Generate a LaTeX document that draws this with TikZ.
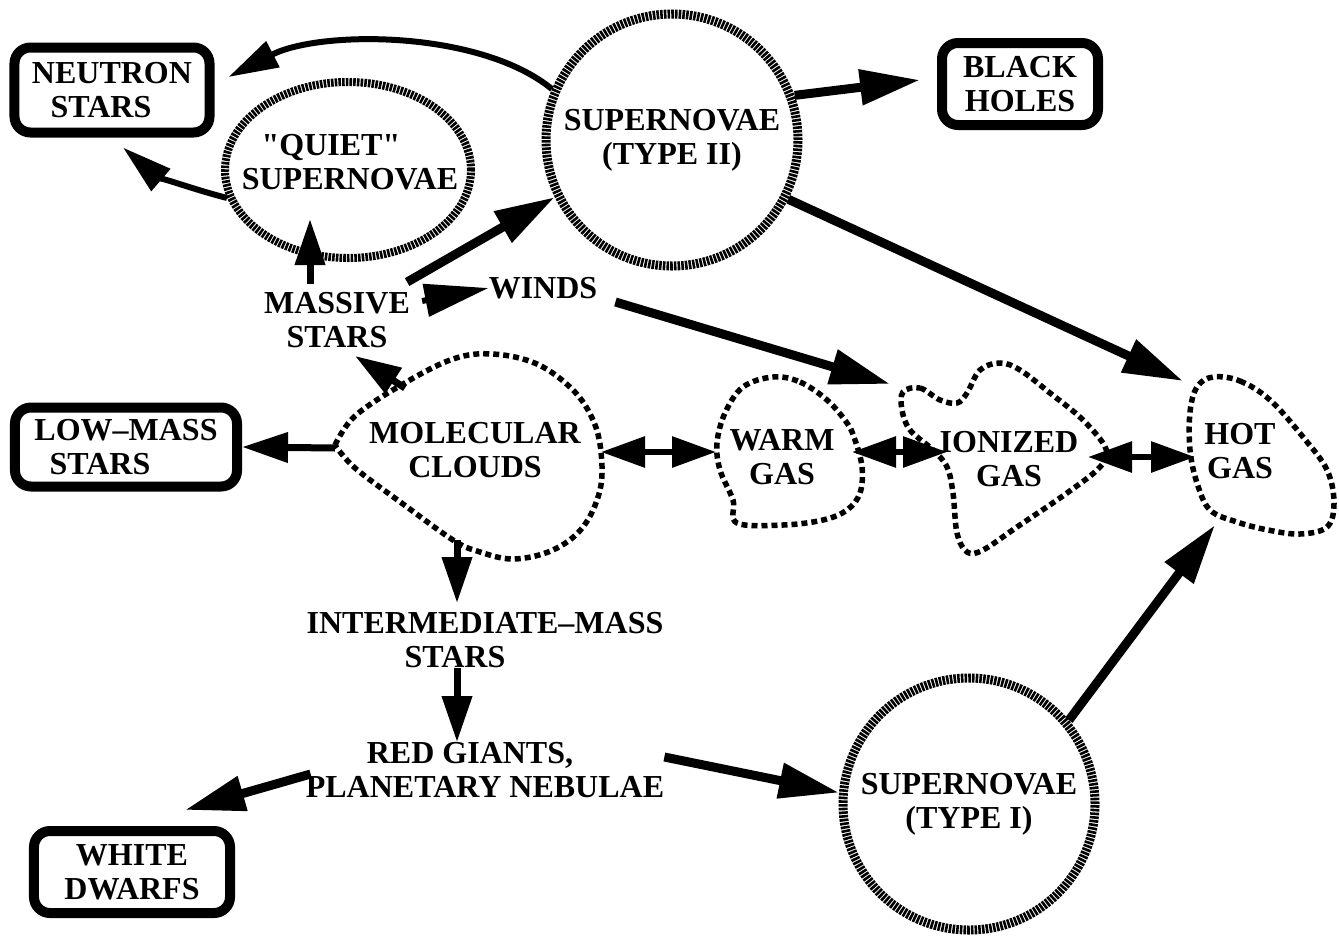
\documentclass[tikz,border=0pt]{standalone}
\usepackage{fontspec}
\setmainfont{Liberation Serif}[Ligatures=TeXOff]
\usetikzlibrary{arrows.meta,shapes.geometric,calc}
\begin{document}
\begin{tikzpicture}[x=1bp,y=-1bp,
  txt/.style={font=\fontsize{32bp}{34bp}\selectfont\bfseries, align=center, inner sep=0pt},
  box/.style={txt, draw, line width=10bp, rounded corners=16bp},
  hatch/.style={line width=9bp, dash pattern=on 2.6bp off 1.1bp},
  sn/.style={txt, circle, hatch, draw, minimum size=252bp},
  blob/.style={line width=5.5bp, dash pattern=on 6bp off 4bp},
  arr/.style={line width=9bp, -{Triangle[length=60bp,width=34bp]}},
  arrs/.style={line width=7bp, -{Triangle[length=46bp,width=29bp]}},
  arrc/.style={line width=6bp, -{Triangle[length=50bp,width=28bp]}},
  dbl/.style={line width=6bp, {Triangle[length=44bp,width=30bp]}-{Triangle[length=44bp,width=30bp]}},
]
\fill[white] (0,0) rectangle (1339,943);
\useasboundingbox (0,0) rectangle (1339,943);

% boxes
\node[box, minimum width=195bp, minimum height=85bp] (neutron) at (112,90) {NEUTRON\\\hspace*{-22bp}STARS};
\node[box, minimum width=156bp, minimum height=82bp] (bh) at (1020,84) {BLACK\\HOLES};
\node[box, minimum width=222bp, minimum height=79bp] (lowmass) at (126,447) {LOW–MASS\\\hspace*{-52bp}STARS};
\node[box, minimum width=196bp, minimum height=82bp] (white) at (132,872) {WHITE\\DWARFS};

% supernovae
\node[sn] (snII) at (672,140) {SUPERNOVAE\\(TYPE II)};
\node[sn] (snI) at (969,804) {SUPERNOVAE\\(TYPE I)};
\node[ellipse, draw, hatch, line width=8bp, minimum width=246bp, minimum height=176bp, inner sep=0pt] (quiet) at (348,170) {};
\node[txt] (quiett) at (350,162) {\hspace*{-38bp}"QUIET"\\SUPERNOVAE};

% plain labels
\node[txt] (massive) at (337,320) {MASSIVE\\STARS};
\node[txt] (winds) at (543,288) {WINDS};
\node[txt] (inter) at (485,640) {INTERMEDIATE–MASS\\\hspace*{-60bp}STARS};
\node[txt] (red) at (485,770) {\hspace*{-30bp}RED GIANTS,\\PLANETARY NEBULAE};

% gas phases
\node[txt] (mc) at (475,450) {MOLECULAR\\CLOUDS};
\node[txt] (warm) at (782,457) {WARM\\GAS};
\node[txt] (ion) at (1009,459) {IONIZED\\GAS};
\node[txt] (hot) at (1240,451) {HOT\\GAS};

\draw[blob] plot[smooth, tension=0.6] coordinates {(335,445) (355,416) (403,384) (453,359) (493,354) (537,364) (573,390) (593,420) (601,452) (600,490) (583,527) (553,550) (513,559) (477,551) (453,540) (403,504) (355,468) (335,445)};
\draw[blob] plot[smooth cycle, tension=0.6] coordinates {(773,377) (800,382) (827,400) (847,423) (855,440) (862,467) (860,493) (847,510) (823,520) (783,525) (737,523) (733,500) (720,470) (717,443) (725,413) (743,387)};
\draw[blob] plot[smooth cycle, tension=0.6] coordinates {(903,392) (920,388) (940,400) (957,403) (967,393) (980,370) (1000,363) (1020,370) (1050,393) (1083,420) (1106,449) (1100,467) (1067,493) (1017,527) (983,550) (967,552) (957,533) (953,493) (947,467) (933,450) (910,430) (902,410)};
\draw[blob] plot[smooth cycle, tension=0.6] coordinates {(1213,377) (1240,381) (1270,400) (1303,437) (1327,470) (1334,503) (1327,527) (1300,534) (1268,530) (1237,522) (1210,510) (1197,483) (1190,450) (1190,412) (1197,387)};

\coordinate (mcL) at (335,448);
\coordinate (mcR) at (601,452);
\coordinate (mcT) at (405,388);
\coordinate (mcB) at (457,540);
\coordinate (warmL) at (716,452);
\coordinate (warmR) at (852,452);
\coordinate (ionL) at (947,452);
\coordinate (ionR) at (1088,457);
\coordinate (ionT) at (890,384);
\coordinate (hotL) at (1195,457);
\coordinate (hotT) at (1183,381);
\coordinate (hotB) at (1215,525);

% connectors
\draw[arrc] (snII.157) .. controls (480,30) and (320,30) .. ($(neutron.east)+(14,-13)$);
\draw[arrc] (quiet.193) .. controls (195,190) and (155,175) .. ($(neutron.south)+(11,10)$);
\draw[arr] (snII.20) -- ($(bh.west)+(-17,-4)$);
\draw[arr] (snII.-27) -- (hotT);
\draw[arr] ($(massive.north east)+(-3,-10)$) -- (snII.206);
\draw[arrs] ($(massive.north)+(-27,-8)$) -- ($(quiet.south)+(-38,-43)$);
\draw[line width=6bp, -{Triangle[length=64bp,width=32bp]}] ($(massive.east)+(12,-19)$) -- (winds.west);
\draw[arr] ($(winds.east)+(18,14)$) -- (ionT);
\draw[arrs] (mcT) -- ($(massive.south)+(18,8)$);
\draw[arrs] (mcL) -- (lowmass.east);
\draw[dbl] (mcR) -- (warmL);
\draw[dbl] (warmR) -- (ionL);
\draw[dbl] (ionR) -- (hotL);
\draw[arrs] (mcB) -- ($(mcB |- inter.north)+(0,-9)$);
\draw[arrs] (mcB |- inter.south) -- (mcB |- red.north);
\draw[arr] ($(red.west)+(5,4)$) -- ($(white.north east)+(-50,-16)$);
\draw[arr] ($(red.east)+(0,-13)$) -- (snI.175);
\draw[arr] (snI.40) -- (hotB);
\end{tikzpicture}
\end{document}
